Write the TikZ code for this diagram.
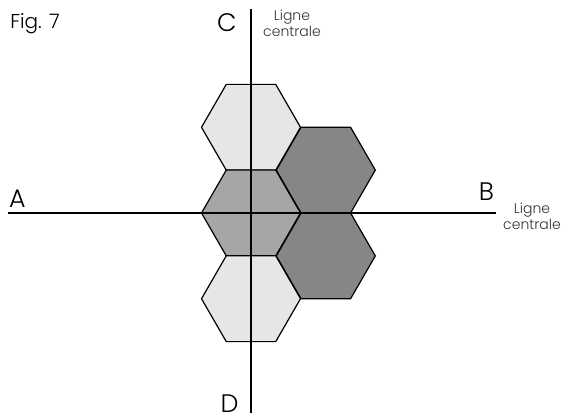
\documentclass[tikz,border=0pt]{standalone}
\usepackage{fontspec}
\setmainfont{Poppins}[UprightFont={* Light}]
\definecolor{hexlight}{HTML}{E6E6E6}
\definecolor{hexmid}{HTML}{A7A6A7}
\definecolor{hexdark}{HTML}{868686}
\tikzset{
  hexline/.style={draw=black, line width=0.9pt, line join=miter},
  axis/.style={draw=black, line width=1.5pt},
  bigletter/.style={font=\fontsize{19}{19}\selectfont, inner sep=0pt},
  smalllabel/.style={font=\fontsize{10.5}{12}\selectfont, align=center, inner sep=0pt, text=black!80},
}
\newcommand{\hexat}[3]{% fill, cx, cy
  \path[hexline, fill=#1] (#2-49.5,#3) -- (#2-24.75,#3-42.9) -- (#2+24.75,#3-42.9)
    -- (#2+49.5,#3) -- (#2+24.75,#3+42.9) -- (#2-24.75,#3+42.9) -- cycle;}
\begin{document}
\begin{tikzpicture}[x=0.75pt,y=-0.75pt]
\useasboundingbox (0,0) rectangle (566,413);
\hexat{hexlight}{251}{127.3}
\hexat{hexmid}{251}{213}
\hexat{hexlight}{251}{298.7}
\hexat{hexdark}{325.8}{170.1}
\hexat{hexdark}{325.8}{255.9}
\coordinate (Ctop) at (251,9);
\coordinate (Dbot) at (251,413);
\coordinate (Aleft) at (8,213);
\coordinate (Bright) at (496,213);
\draw[axis] (Ctop) -- (Dbot);
\draw[axis] (Aleft) -- (Bright);
\node[anchor=base west, font=\fontsize{15}{15}\selectfont, inner sep=0pt] (fig) at (10,29) {Fig. 7};
\node[bigletter, anchor=base] (C) at (227,32) {C};
\node[bigletter, anchor=base] (A) at (17.5,207) {A};
\node[bigletter, anchor=base] (B) at (486.5,200) {B};
\node[bigletter, anchor=base] (D) at (229.5,412) {D};
\node[smalllabel, anchor=north] (lc1) at (292,10) {Ligne\\centrale};
\node[smalllabel, anchor=north] (lc2) at (532,203) {Ligne\\centrale};
\end{tikzpicture}
\end{document}
